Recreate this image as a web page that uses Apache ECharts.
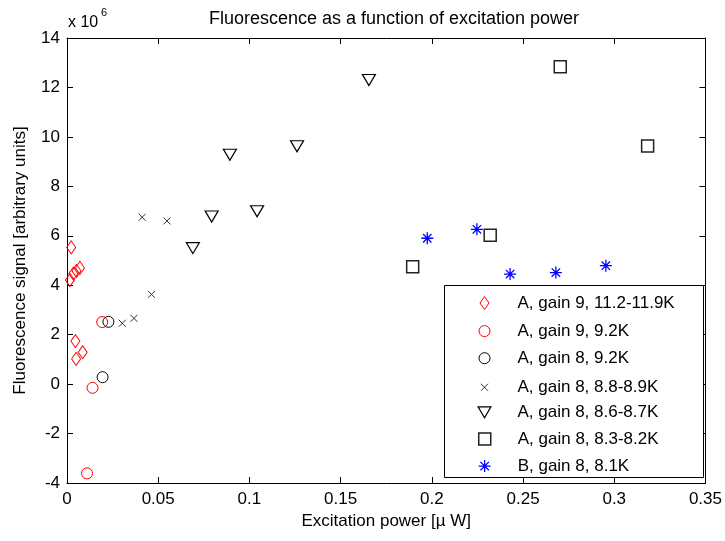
<!DOCTYPE html>
<html>
<head>
<meta charset="utf-8">
<script src="https://cdn.jsdelivr.net/npm/echarts@6/dist/echarts.min.js"></script>
<style>html,body{margin:0;padding:0;background:#fff}#c{width:725px;height:541px}</style>
</head>
<body>
<div id="c"></div>
<script>
// Data (y values in units of 10^6)
var seriesNames = [
  'A, gain 9, 11.2-11.9K',
  'A, gain 9, 9.2K',
  'A, gain 8, 9.2K',
  'A, gain 8, 8.8-8.9K',
  'A, gain 8, 8.6-8.7K',
  'A, gain 8, 8.3-8.2K',
  'B, gain 8, 8.1K'
];
var diamondData = [[0.0023,5.53],[0.0016,4.21],[0.0035,4.47],[0.0052,4.58],[0.0071,4.70],[0.0046,1.74],[0.0086,1.29],[0.0050,1.02]];
var redCircleData = [[0.0193,2.51],[0.0140,-0.15],[0.0110,-3.61]];
var blackCircleData = [[0.0227,2.52],[0.0195,0.28]];
var crossData = [[0.0412,6.75],[0.0548,6.60],[0.0463,3.63],[0.0303,2.46],[0.0367,2.66]];
var triangleData = [[0.1655,12.30],[0.1261,9.62],[0.0893,9.28],[0.1042,6.99],[0.0793,6.78],[0.0690,5.50]];
var squareData = [[0.2704,12.84],[0.3183,9.63],[0.2320,6.02],[0.1895,4.75]];
var starData = [[0.1975,5.90],[0.2247,6.26],[0.2429,4.45],[0.2680,4.51],[0.2954,4.79]];
var xTicks = {min:0, max:0.35, interval:0.05};
var yTicks = {min:-4, max:14, interval:2};

var FONT = '"Liberation Sans", Arial, sans-serif';
var chart = echarts.init(document.getElementById('c'), null, {renderer:'canvas'});

var sym = {
  diamond: {symbol:'diamond', size:[9,13], color:'#ff0000', bw:1},
  circR: {symbol:'circle', size:11, color:'#ff0000', bw:1},
  circK: {symbol:'circle', size:11, color:'#000000', bw:1},
  cross: {symbol:'path://M0,0L10,10M10,0L0,10', size:7, color:'#333333', bw:1},
  tri: {symbol:'path://M0,0L14,0L7,12Z', size:[13,11], color:'#000000', bw:1.2},
  sq: {symbol:'rect', size:12, color:'#222222', bw:1.5},
  star: {symbol:'path://M5,0L5,10M0,5L10,5M1.5,1.5L8.5,8.5M8.5,1.5L1.5,8.5', size:12, color:'#0000ff', bw:1.3}
};
var order = ['diamond','circR','circK','cross','tri','sq','star'];
var datas = [diamondData, redCircleData, blackCircleData, crossData, triangleData, squareData, starData];

var series = order.map(function(k, i){
  var s = sym[k];
  return {
    name: seriesNames[i], type:'scatter', data: datas[i],
    symbol: s.symbol, symbolSize: s.size, symbolKeepAspect:false,
    itemStyle: {color:'rgba(0,0,0,0)', borderColor:s.color, borderWidth:s.bw, opacity:1},
    emphasis:{disabled:true}, z: 3
  };
});

var legends = order.map(function(k, i){
  var s = sym[k];
  var w = Array.isArray(s.size) ? s.size[0] : s.size;
  var h = Array.isArray(s.size) ? s.size[1] : s.size;
  var cy = 301 + 27.1 * i;
  return {
    data:[seriesNames[i]], orient:'vertical', padding:0,
    left: 484 - w/2, top: cy - h/2, itemWidth:w, itemHeight:h,
    selectedMode:false, z: 10,
    itemStyle:{color:'rgba(0,0,0,0)', borderColor:s.color, borderWidth:s.bw},
    textStyle:{fontFamily:FONT, fontSize:17, color:'#000', padding:[0,0,0,28 - w/2]}
  };
});

var axisCommon = {
  type:'value', axisLine:{show:true, onZero:false, lineStyle:{color:'#000', width:1}},
  axisTick:{show:true, inside:true, length:6, lineStyle:{color:'#000'}},
  splitLine:{show:false}
};

chart.setOption({
  animation:false,
  backgroundColor:'#fff',
  title:{text:'Fluorescence as a function of excitation power', left:389, top:5, textAlign:'center',
    textStyle:{fontFamily:FONT, fontSize:18, fontWeight:'normal', color:'#000'}},
  grid:{left:67, right:14, top:38, bottom:58, containLabel:false},
  xAxis:[
    Object.assign({}, axisCommon, {min:xTicks.min, max:xTicks.max, interval:xTicks.interval, position:'bottom',
      name:'Excitation power [µ W]', nameLocation:'middle', nameGap:23,
      nameTextStyle:{fontFamily:FONT, fontSize:17, color:'#000'},
      axisLabel:{fontFamily:FONT, fontSize:17, color:'#000', margin:8, formatter:function(v){return String(+v.toFixed(2));}}}),
    Object.assign({}, axisCommon, {min:xTicks.min, max:xTicks.max, interval:xTicks.interval, position:'top', axisLabel:{show:false}})
  ],
  yAxis:[
    Object.assign({}, axisCommon, {min:yTicks.min, max:yTicks.max, interval:yTicks.interval, position:'left',
      name:'Fluorescence signal [arbitrary units]', nameLocation:'middle', nameGap:38, nameRotate:90,
      nameTextStyle:{fontFamily:FONT, fontSize:17, color:'#000'},
      axisLabel:{fontFamily:FONT, fontSize:17, color:'#000', margin:7}}),
    Object.assign({}, axisCommon, {min:yTicks.min, max:yTicks.max, interval:yTicks.interval, position:'right', axisLabel:{show:false}})
  ],
  legend: legends,
  graphic:[
    {type:'rect', shape:{x:444.5, y:285.5, width:259, height:192}, style:{fill:'#fff', stroke:'#000', lineWidth:1}, z:5},
    {type:'text', x:68, y:23, style:{text:'x 10', font:'16px '+FONT, fill:'#000', textVerticalAlign:'middle'}, z:5},
    {type:'text', x:101, y:13, style:{text:'6', font:'11px '+FONT, fill:'#000', textVerticalAlign:'middle'}, z:5}
  ],
  series: series
});
</script>
</body>
</html>
